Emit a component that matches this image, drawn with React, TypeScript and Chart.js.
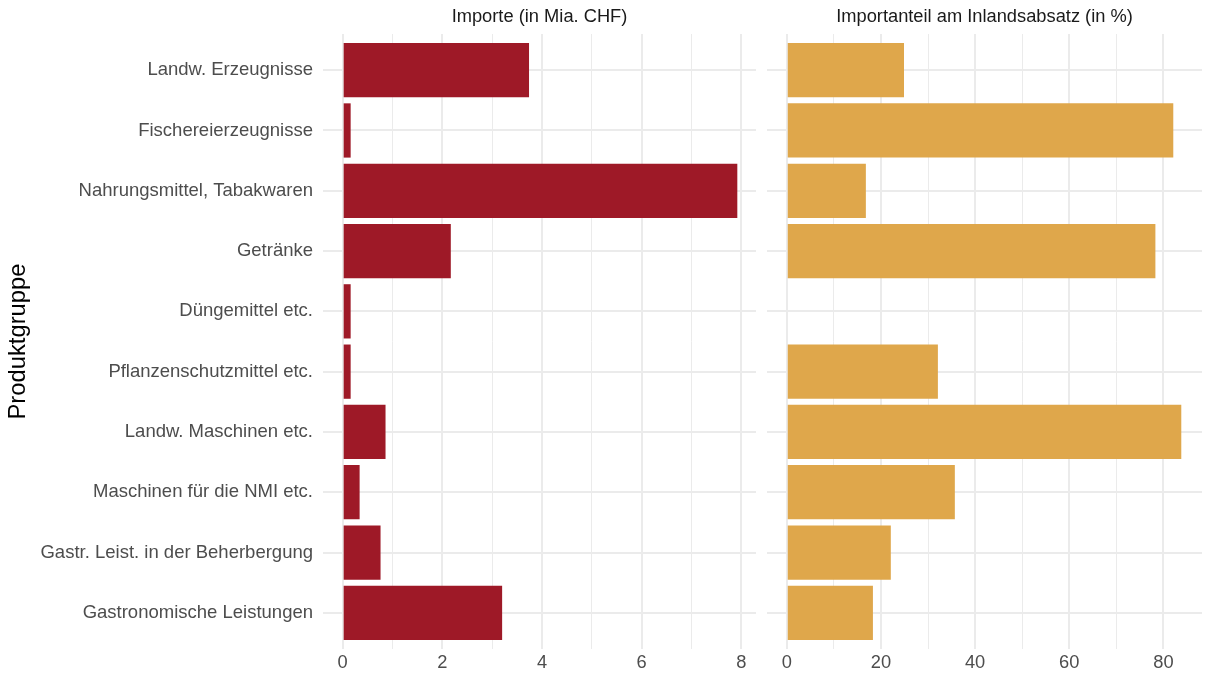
import React, { useEffect, useRef } from "react";
import { Chart, registerables } from "chart.js";

Chart.register(...registerables);

const categories = [
  "Landw. Erzeugnisse",
  "Fischereierzeugnisse",
  "Nahrungsmittel, Tabakwaren",
  "Getränke",
  "Düngemittel etc.",
  "Pflanzenschutzmittel etc.",
  "Landw. Maschinen etc.",
  "Maschinen für die NMI etc.",
  "Gastr. Leist. in der Beherbergung",
  "Gastronomische Leistungen",
];
const importe = [3.74, 0.16, 7.92, 2.17, 0.16, 0.16, 0.86, 0.34, 0.76, 3.2];
const anteil: (number | null)[] = [24.9, 82.1, 16.8, 78.3, null, 32.1, 83.8, 35.7, 22.1, 18.3];
const leftTicks = [0, 1, 2, 3, 4, 5, 6, 7, 8];
const rightTicks = [0, 10, 20, 30, 40, 50, 60, 70, 80];
const leftTitle = "Importe (in Mia. CHF)";
const rightTitle = "Importanteil am Inlandsabsatz (in %)";
const yTitle = "Produktgruppe";

const FONT = "'Liberation Sans', Arial, Helvetica, sans-serif";
const GRID = "#ebebeb";

function titlePlugin(text: string) {
  return {
    id: "stripTitle",
    afterDraw(chart: any) {
      const { ctx, chartArea } = chart;
      ctx.save();
      ctx.font = `18.3px ${FONT}`;
      ctx.fillStyle = "#1a1a1a";
      ctx.textAlign = "center";
      ctx.textBaseline = "middle";
      ctx.fillText(text, (chartArea.left + chartArea.right) / 2, 17);
      ctx.restore();
    },
  };
}

function makeConfig(
  values: (number | null)[],
  color: string,
  xmin: number,
  xmax: number,
  ticks: number[],
  labelStep: number,
  title: string,
  showY: boolean,
  yWidth: number,
  rightPad: number
): any {
  const data = values
    .map((v, i) => (v === null ? null : { x: v, y: i }))
    .filter((d) => d !== null);
  return {
    type: "bar",
    data: {
      datasets: [
        {
          data,
          backgroundColor: color,
          borderWidth: 0,
          barPercentage: 0.9,
          categoryPercentage: 1,
        },
      ],
    },
    plugins: [titlePlugin(title)],
    options: {
      indexAxis: "y",
      animation: false,
      responsive: false,
      events: [],
      layout: { padding: { top: 34, right: rightPad, left: 0, bottom: 0 } },
      plugins: { legend: { display: false }, tooltip: { enabled: false } },
      scales: {
        x: {
          type: "linear",
          min: xmin,
          max: xmax,
          afterBuildTicks: (s: any) => {
            s.ticks = ticks.map((v) => ({ value: v }));
          },
          afterFit: (s: any) => {
            s.height = 29;
          },
          ticks: {
            autoSkip: false,
            maxRotation: 0,
            padding: 3,
            color: "#4d4d4d",
            font: { size: 18.3, family: FONT },
            callback: (v: any) => (v % labelStep === 0 ? String(v) : ""),
          },
          grid: {
            color: GRID,
            drawTicks: false,
            lineWidth: (c: any) => (c.tick && c.tick.value % labelStep === 0 ? 2 : 1),
          },
          border: { display: false },
        },
        y: {
          type: "linear",
          reverse: true,
          offset: false,
          min: -0.6,
          max: 9.6,
          afterBuildTicks: (s: any) => {
            s.ticks = categories.map((_, i) => ({ value: i }));
          },
          afterFit: (s: any) => {
            s.width = yWidth;
          },
          ticks: {
            display: showY,
            autoSkip: false,
            padding: 10,
            color: "#4d4d4d",
            font: { size: 18.5, family: FONT },
            callback: (v: any) => categories[v],
          },
          grid: { color: GRID, lineWidth: 2, drawTicks: false, offset: false },
          border: { display: false },
          title: {
            display: showY,
            text: yTitle,
            color: "#000000",
            font: { size: 23.8, family: FONT },
            padding: { top: 4, bottom: 4 },
          },
        },
      },
    },
  };
}

export default function App() {
  const leftRef = useRef<HTMLCanvasElement>(null);
  const rightRef = useRef<HTMLCanvasElement>(null);

  useEffect(() => {
    Chart.defaults.font.family = FONT;
    const left = new Chart(
      leftRef.current!,
      makeConfig(importe, "#9e1927", -0.395, 8.295, leftTicks, 2, leftTitle, true, 323, 4)
    );
    const right = new Chart(
      rightRef.current!,
      makeConfig(anteil, "#dfa74b", -4.2, 88.2, rightTicks, 20, rightTitle, false, 7, 3)
    );
    return () => {
      left.destroy();
      right.destroy();
    };
  }, []);

  return (
    <div style={{ position: "absolute", left: 0, top: 0, width: 1205, height: 678, background: "#fff" }}>
      <canvas
        ref={leftRef}
        width={760}
        height={678}
        style={{ position: "absolute", left: 0, top: 0, width: 760, height: 678 }}
      />
      <canvas
        ref={rightRef}
        width={445}
        height={678}
        style={{ position: "absolute", left: 760, top: 0, width: 445, height: 678 }}
      />
    </div>
  );
}
